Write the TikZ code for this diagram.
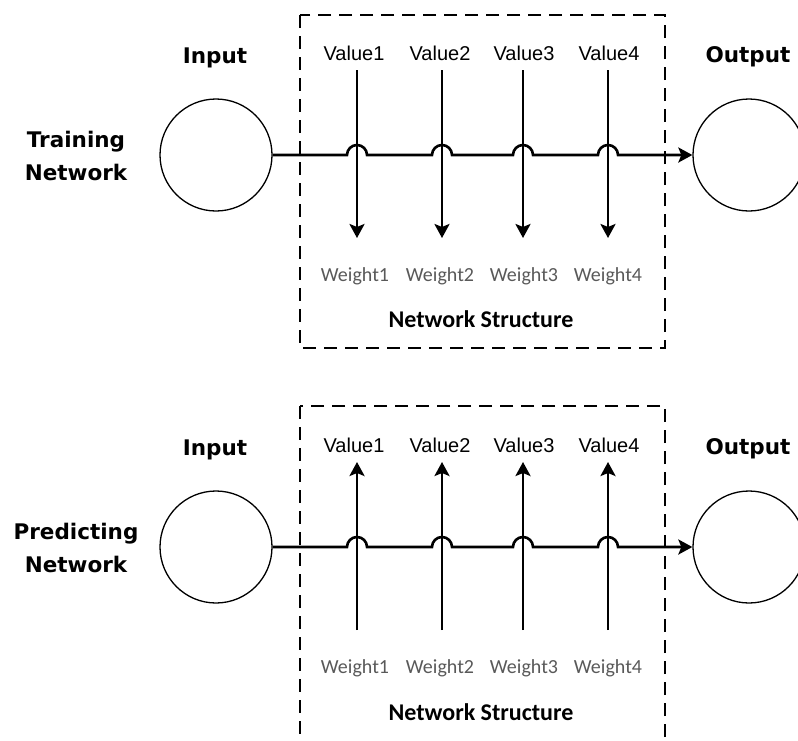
\documentclass[tikz,border=0pt]{standalone}
\usepackage{fontspec}
\setmainfont{Liberation Sans}
\newfontfamily\headfont{DejaVu Sans}
\newfontfamily\calfont{Carlito}
\usetikzlibrary{arrows.meta}

\begin{document}
\begin{tikzpicture}[x=1pt,y=-1pt,
  headlbl/.style={font=\headfont\bfseries\fontsize{21.5pt}{33pt}\selectfont, inner sep=0pt},
  vallbl/.style={font=\fontsize{20pt}{24pt}\selectfont, inner sep=0pt, anchor=base},
  wlbl/.style={font=\calfont\fontsize{20pt}{24pt}\selectfont, text=black!65, inner sep=0pt, anchor=base},
  structlbl/.style={font=\calfont\bfseries\fontsize{24pt}{28pt}\selectfont, inner sep=0pt, anchor=base},
  unit/.style={circle, draw, line width=1.3pt, minimum size=112pt, inner sep=0pt},
  frame/.style={draw, line width=1.6pt, dash pattern=on 13pt off 8pt},
  flow/.style={line width=2.6pt, -{Stealth[length=14pt,width=15pt,inset=3pt]}},
  hop/.style={line width=2.6pt, -{Stealth[length=14pt,width=15pt,inset=3pt]}},
]
\useasboundingbox (0,0) rectangle (798,740);
\clip (0,0) rectangle (798,740);

% ---------- training network ----------
\draw[frame] (300,15) rectangle (665,348);
\node[headlbl, anchor=base] (inT) at (215,63) {Input};
\node[headlbl, anchor=base] (outT) at (748,62) {Output};
\node[headlbl, align=center] (nameT) at (76,156) {Training\\Network};
\node[unit] (in1) at (216,155) {};
\node[unit] (out1) at (749,155) {};
\node[vallbl] (tv1) at (354,60) {Value1};
\node[vallbl] (tv2) at (440,60) {Value2};
\node[vallbl] (tv3) at (524,60) {Value3};
\node[vallbl] (tv4) at (609,60) {Value4};
\node[wlbl] (tw1) at (355,281) {Weight1};
\node[wlbl] (tw2) at (440,281) {Weight2};
\node[wlbl] (tw3) at (524,281) {Weight3};
\node[wlbl] (tw4) at (608,281) {Weight4};
\node[structlbl] (tns) at (481,327) {Network Structure};
\foreach \i/\x in {1/357,2/442,3/523,4/608}{
  \coordinate (ta\i) at (\x,70);
  \coordinate (tb\i) at (\x,238);
  \draw[flow] (ta\i) -- (tb\i);
}
\draw[flow] (in1.east)
  -- ([xshift=-10pt]ta1 |- in1.east) arc[start angle=180,end angle=0,radius=10pt]
  -- ([xshift=-10pt]ta2 |- in1.east) arc[start angle=180,end angle=0,radius=10pt]
  -- ([xshift=-10pt]ta3 |- in1.east) arc[start angle=180,end angle=0,radius=10pt]
  -- ([xshift=-10pt]ta4 |- in1.east) arc[start angle=180,end angle=0,radius=10pt]
  -- (out1.west);

% ---------- predicting network ----------
\draw[frame] (300,406) rectangle (665,746);
\node[headlbl, anchor=base] (inP) at (215,455) {Input};
\node[headlbl, anchor=base] (outP) at (748,454) {Output};
\node[headlbl, align=center] (nameP) at (76,548) {Predicting\\Network};
\node[unit] (in2) at (216,547) {};
\node[unit] (out2) at (749,547) {};
\node[vallbl] (pv1) at (354,452) {Value1};
\node[vallbl] (pv2) at (440,452) {Value2};
\node[vallbl] (pv3) at (524,452) {Value3};
\node[vallbl] (pv4) at (609,452) {Value4};
\node[wlbl] (pw1) at (355,673) {Weight1};
\node[wlbl] (pw2) at (440,673) {Weight2};
\node[wlbl] (pw3) at (524,673) {Weight3};
\node[wlbl] (pw4) at (608,673) {Weight4};
\node[structlbl] (pns) at (481,720) {Network Structure};
\foreach \i/\x in {1/357,2/442,3/523,4/608}{
  \coordinate (pa\i) at (\x,630);
  \coordinate (pb\i) at (\x,462);
  \draw[flow] (pa\i) -- (pb\i);
}
\draw[flow] (in2.east)
  -- ([xshift=-10pt]pa1 |- in2.east) arc[start angle=180,end angle=0,radius=10pt]
  -- ([xshift=-10pt]pa2 |- in2.east) arc[start angle=180,end angle=0,radius=10pt]
  -- ([xshift=-10pt]pa3 |- in2.east) arc[start angle=180,end angle=0,radius=10pt]
  -- ([xshift=-10pt]pa4 |- in2.east) arc[start angle=180,end angle=0,radius=10pt]
  -- (out2.west);
\end{tikzpicture}
\end{document}
